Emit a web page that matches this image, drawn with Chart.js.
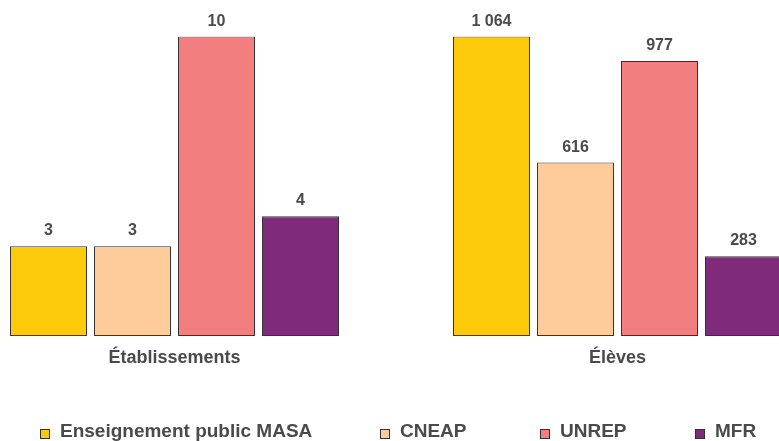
<!DOCTYPE html>
<html lang="fr">
<head>
<meta charset="utf-8">
<script src="https://cdn.jsdelivr.net/npm/chart.js@4"></script>
<style>
  html, body { margin: 0; padding: 0; background: #fff; }
  #wrap { position: relative; width: 779px; height: 441px; overflow: hidden; font-family: "Liberation Sans", Arial, sans-serif; }
  .panel { position: absolute; top: 0; width: 349px; height: 441px; }
  .legend-item { position: absolute; top: 420px; font-size: 19px; font-weight: bold; color: #4a4a4a; white-space: nowrap; line-height: 22px; }
  .legend-item i { position: absolute; left: -20px; top: 9px; width: 8px; height: 8px; border: 1px solid #333; }
</style>
</head>
<body>
<div id="wrap">
  <div class="panel" style="left:0"><canvas id="etab"></canvas></div>
  <div class="panel" style="left:443px"><canvas id="eleves"></canvas></div>
  <div id="legend"></div>
</div>
<script>
// données
var categories = ['Enseignement public MASA', 'CNEAP', 'UNREP', 'MFR'];
var etablissements = [3, 3, 10, 4];
var eleves = [1064, 616, 977, 283];
var panelTitles = ['Établissements', 'Élèves'];
var couleurs = ['#FDCA09', '#FECC9B', '#F37E80', '#7F2A7B'];
var legendX = [60, 400, 560, 715];

function fmt(v) {
    return String(v).replace(/\B(?=(\d{3})+(?!\d))/g, ' ');
}

// étiquettes des valeurs + titre du groupe
var labelsPlugin = {
    id: 'labels',
    afterDatasetsDraw: function(chart) {
        var ctx = chart.ctx;
        var meta = chart.getDatasetMeta(0);
        ctx.save();
        ctx.fillStyle = '#4a4a4a';
        ctx.textAlign = 'center';
        ctx.textBaseline = 'alphabetic';
        ctx.font = 'bold 16px "Liberation Sans", Arial, sans-serif';
        meta.data.forEach(function(bar, i) {
            ctx.fillText(fmt(chart.data.datasets[0].data[i]), bar.x, bar.y - 11);
        });
        var area = chart.chartArea;
        ctx.font = 'bold 18px "Liberation Sans", Arial, sans-serif';
        ctx.fillText(chart.options.plugins.groupTitle, (area.left + area.right) / 2, area.bottom + 27);
        ctx.restore();
    }
};

function makeChart(id, values, title) {
    var ctx = document.getElementById(id).getContext('2d');
    return new Chart(ctx, {
        type: 'bar',
        data: {
            labels: categories,
            datasets: [{
                data: values,
                backgroundColor: couleurs,
                borderColor: '#333333',
                borderWidth: 1,
                borderSkipped: false,
                barPercentage: 0.917,
                categoryPercentage: 1
            }]
        },
        options: {
            responsive: true,
            maintainAspectRatio: false,
            animation: false,
            layout: { padding: { left: 6.5, right: 6.5, top: 36.5, bottom: 105 } },
            scales: {
                x: { display: false },
                y: { display: false, min: 0, max: Math.max.apply(null, values) }
            },
            plugins: {
                legend: { display: false },
                tooltip: { enabled: false },
                groupTitle: title
            }
        },
        plugins: [labelsPlugin]
    });
}

makeChart('etab', etablissements, panelTitles[0]);
makeChart('eleves', eleves, panelTitles[1]);

// légende
var legend = document.getElementById('legend');
categories.forEach(function(c, i) {
    var item = document.createElement('div');
    item.className = 'legend-item';
    item.style.left = legendX[i] + 'px';
    item.innerHTML = '<i style="background:' + couleurs[i] + '"></i>' + c;
    legend.appendChild(item);
});
</script>
</body>
</html>
